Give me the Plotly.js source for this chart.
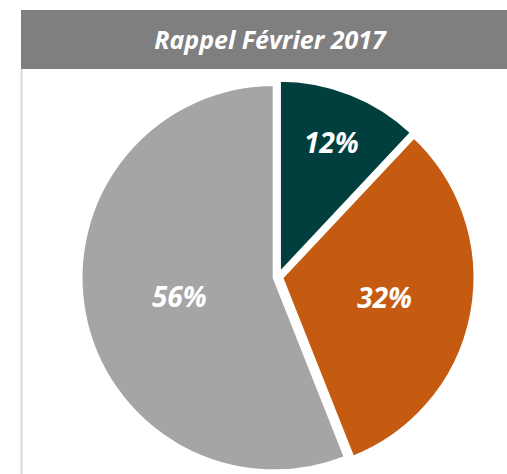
<!DOCTYPE html>
<html>
<head>
<meta charset="utf-8">
<script src="https://cdn.plot.ly/plotly-3.0.1.min.js"></script>
<style>html,body{margin:0;padding:0;background:#fff;}#chart{width:507px;height:474px;}</style>
</head>
<body>
<div id="chart"></div>
<script>
const categories = ["A", "B", "C"];
const values = [12, 32, 56];
const colors = ["#013F3E", "#C55A11", "#A5A5A5"];
const chartTitle = "Rappel Février 2017";

const W = 507, H = 474;
const trace = {
  type: "pie",
  labels: categories,
  values: values,
  sort: false,
  direction: "clockwise",
  rotation: 0,
  pull: 0.02,
  marker: {colors: colors, line: {color: "#ffffff", width: 3}},
  textinfo: "percent",
  textposition: "inside",
  insidetextorientation: "horizontal",
  textfont: {family: "Open Sans", size: 28, color: "#ffffff", weight: "bold", style: "italic"},
  hoverinfo: "none",
  showlegend: false,
  domain: {x: [81 / W, 475 / W], y: [0, 394 / H]}
};

const layout = {
  width: W, height: H,
  margin: {l: 0, r: 0, t: 0, b: 0},
  paper_bgcolor: "#ffffff",
  showlegend: false,
  title: {
    text: "<b><i>" + chartTitle + "</i></b>",
    font: {family: "Open Sans", size: 25, color: "#ffffff"},
    x: 270 / W, xanchor: "center", xref: "paper",
    y: 1 - 40 / H, yanchor: "middle", yref: "paper"
  },
  shapes: [
    {type: "rect", xref: "paper", yref: "paper", x0: 21 / W, x1: 1, y0: 1 - 69 / H, y1: 1 - 10 / H,
     fillcolor: "#7F7F7F", line: {width: 0}, layer: "below"},
    {type: "line", xref: "paper", yref: "paper", x0: 21.5 / W, x1: 21.5 / W, y0: 0, y1: 1 - 69 / H,
     line: {color: "#D9D9D9", width: 2}, layer: "below"}
  ]
};

Plotly.newPlot("chart", [trace], layout, {displayModeBar: false, staticPlot: true});
</script>
</body>
</html>
